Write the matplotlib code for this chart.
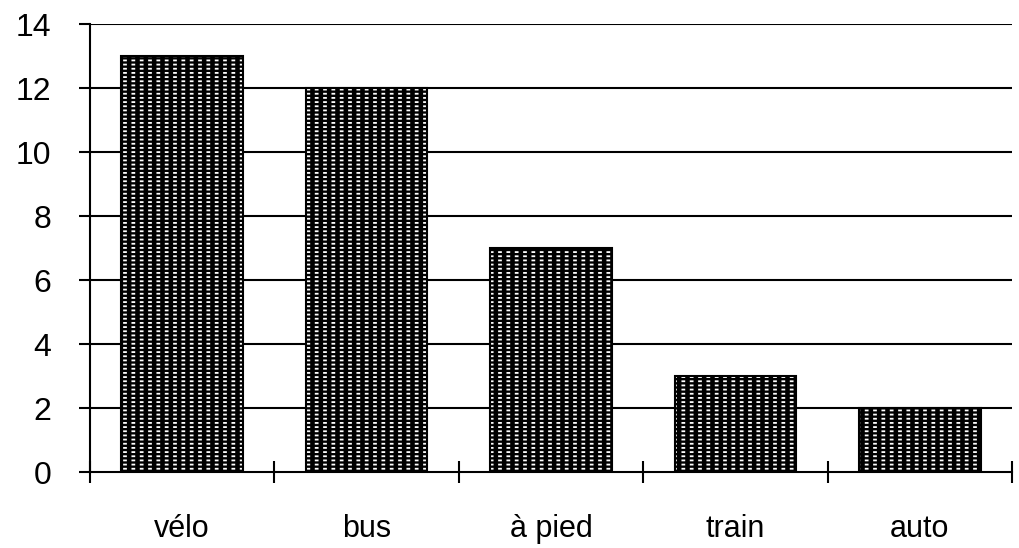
import matplotlib.pyplot as plt
import matplotlib as mpl

categories = ['vélo', 'bus', 'à pied', 'train', 'auto']
values = [13, 12, 7, 3, 2]
yticks = [0, 2, 4, 6, 8, 10, 12, 14]

plt.rcParams['font.family'] = ['Liberation Sans', 'DejaVu Sans']

fig = plt.figure(figsize=(10.2, 5.48), dpi=100)
ax = fig.add_axes([90 / 1020, 76 / 548, 922 / 1020, 448 / 548])

x = range(len(categories))
lw = 1.5

# horizontal grid lines
for y in yticks[1:]:
    ax.axhline(y, color='black', lw=lw, zorder=1)

# bars: black fill, white dashes made from white lines cut by thick black lines
with mpl.rc_context({'hatch.linewidth': 1.3, 'hatch.color': 'white'}):
    ax.bar(x, values, width=0.66, color='black', edgecolor='white', linewidth=0,
           hatch='----', zorder=2)
with mpl.rc_context({'hatch.linewidth': 3.3, 'hatch.color': 'black'}):
    ax.bar(x, values, width=0.66, color='none', edgecolor='black', linewidth=0,
           hatch='||', zorder=3)
ax.bar(x, values, width=0.66, color='none', edgecolor='black', linewidth=lw, zorder=4)

ax.set_xlim(-0.5, len(categories) - 0.5)
ax.set_ylim(0, 14)
ax.set_yticks(yticks)
ax.set_yticklabels([str(v) for v in yticks], fontsize=23)

ax.set_xticks([i - 0.5 for i in range(len(categories) + 1)])
ax.set_xticklabels([])
ax.set_xticks(list(x), minor=True)
ax.set_xticklabels(categories, minor=True, fontsize=22)
ax.tick_params(axis='x', which='minor', length=0, pad=30)
ax.tick_params(axis='x', which='major', direction='inout', length=16, width=lw)
ax.tick_params(axis='y', direction='out', length=8, width=lw, pad=20)

for s in ['top', 'right']:
    ax.spines[s].set_visible(False)
for s in ['left', 'bottom']:
    ax.spines[s].set_linewidth(lw)

fig.savefig('out.png', dpi=100)
